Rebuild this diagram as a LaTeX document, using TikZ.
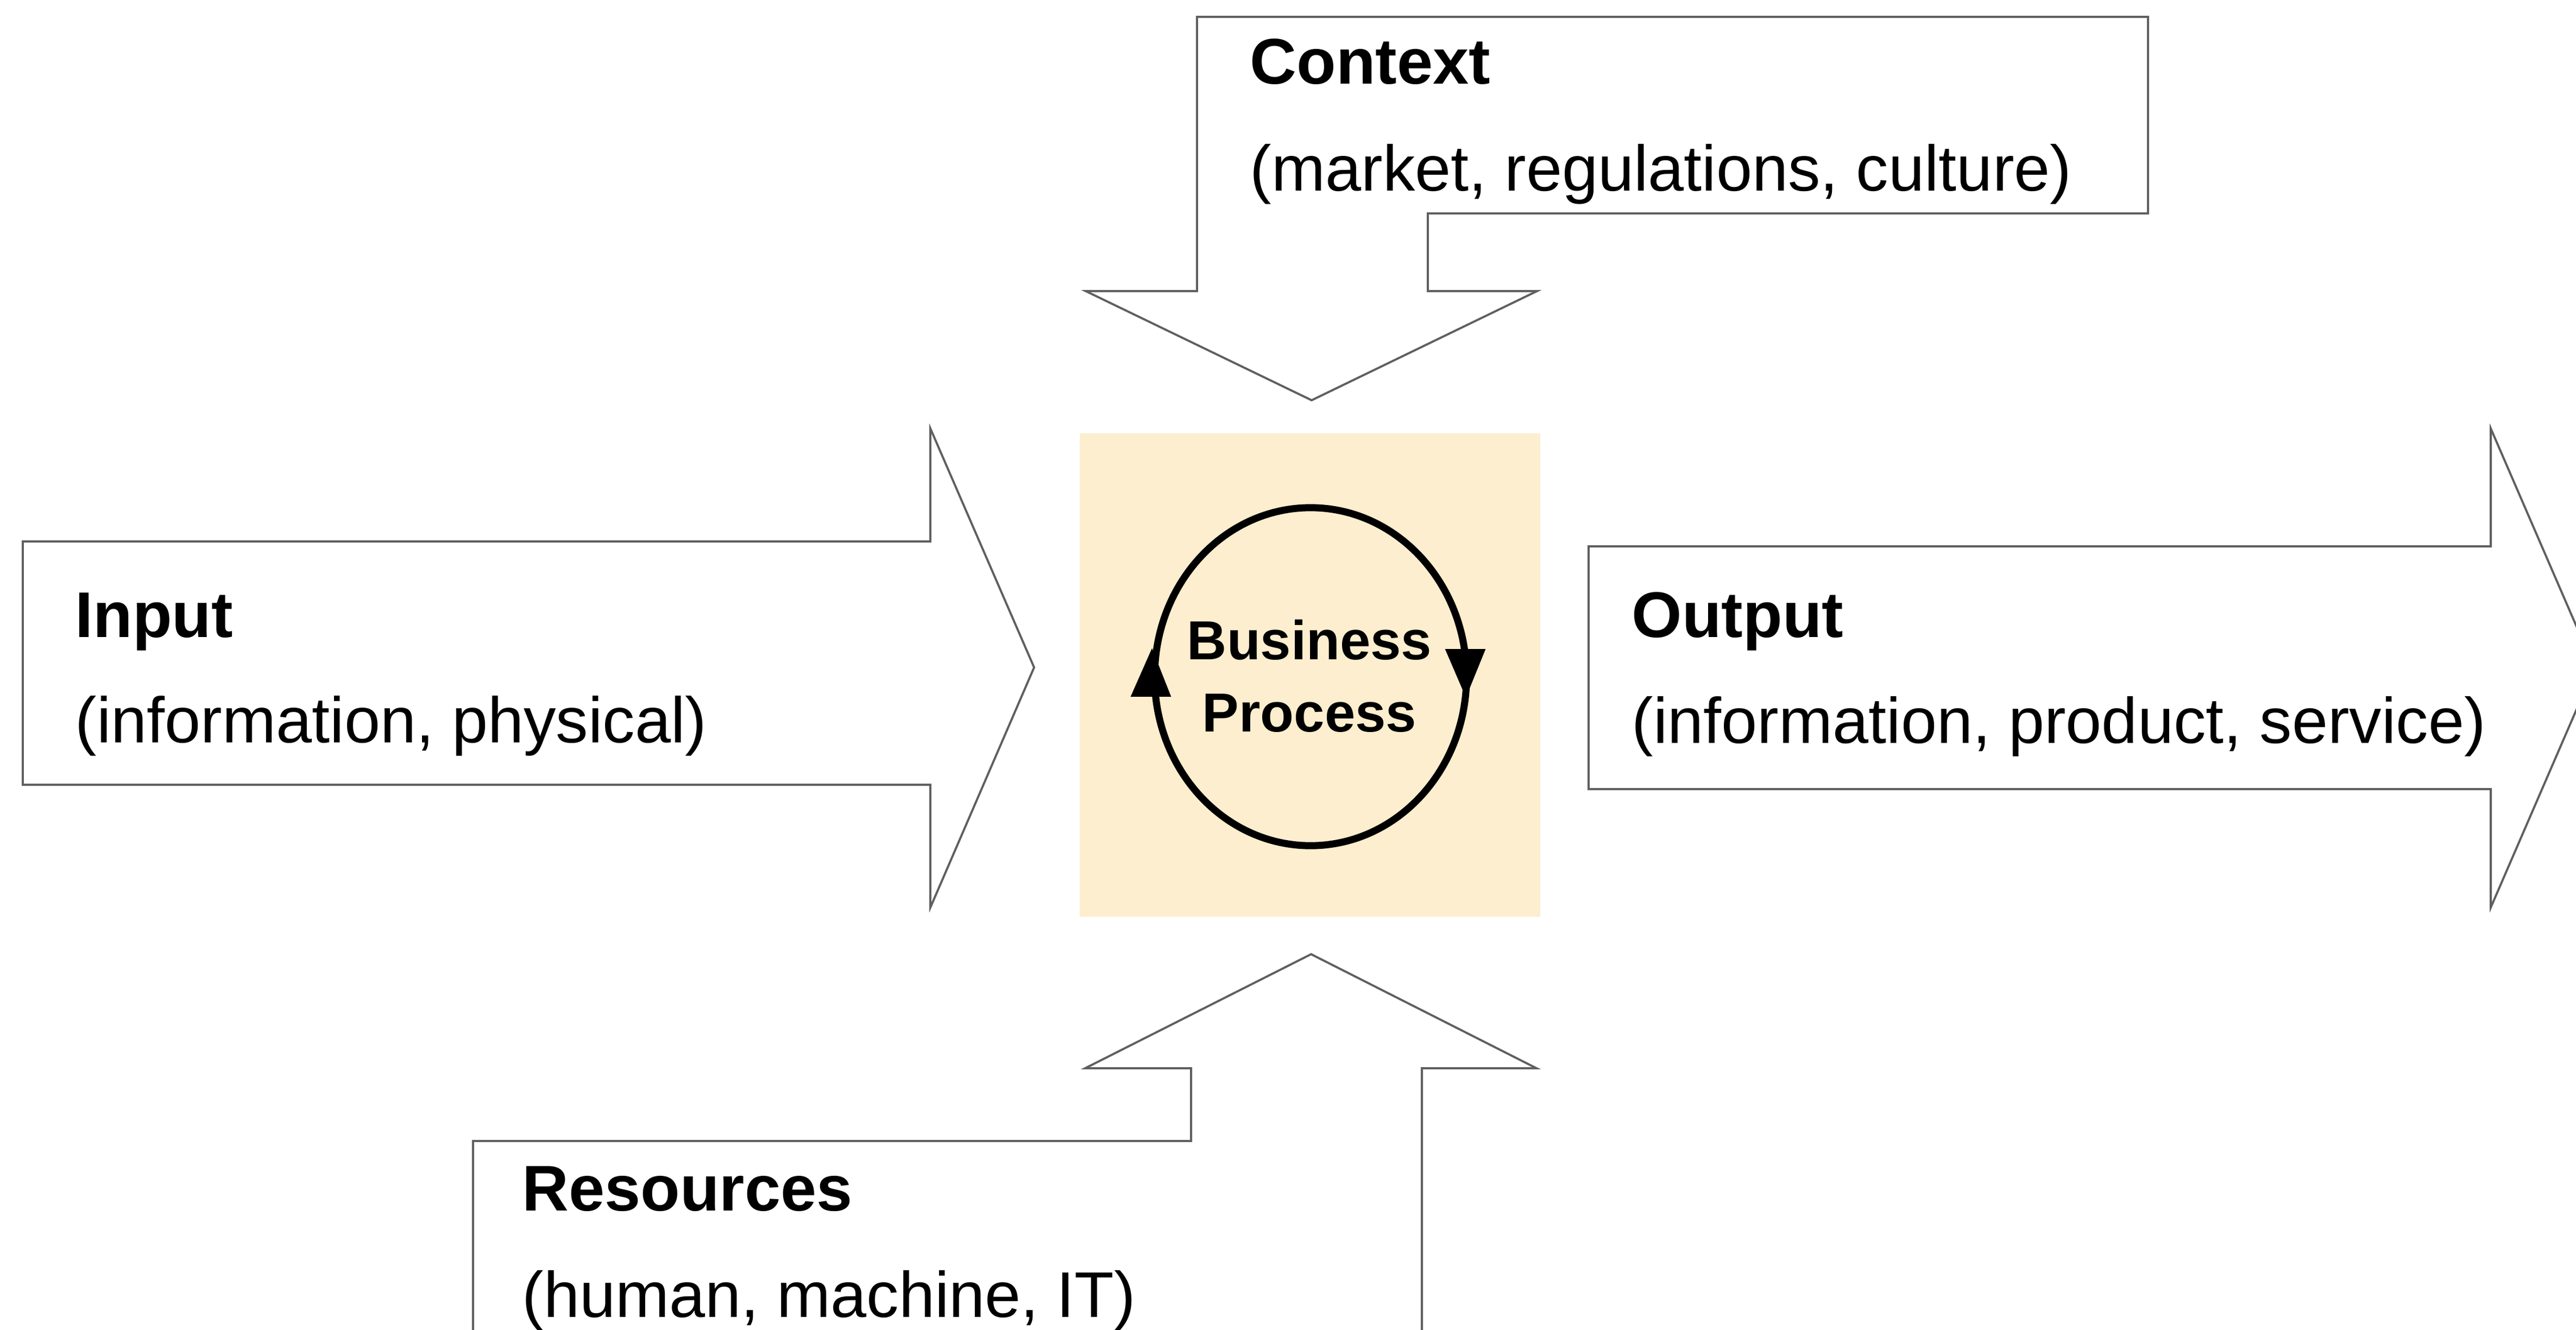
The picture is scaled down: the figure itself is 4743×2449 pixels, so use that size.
\documentclass[tikz,border=0pt]{standalone}
\usepackage{fontspec}
\setmainfont{Liberation Sans}
\definecolor{bpfill}{RGB}{252,238,206}
\definecolor{edgegray}{RGB}{95,95,95}
\tikzset{
  bigarrow/.style={draw=edgegray, line width=1.1pt, fill=white, line join=miter},
  titletext/.style={font=\fontsize{33.8}{40}\selectfont\bfseries, anchor=base west, inner sep=0pt},
  subtext/.style={font=\fontsize{33.8}{40}\selectfont, anchor=base west, inner sep=0pt},
  bptext/.style={font=\fontsize{28.8}{34}\selectfont\bfseries, anchor=base, inner sep=0pt},
  looptip/.style={fill=black, draw=black, line width=0.5pt, line join=miter}
}
\begin{document}
\begin{tikzpicture}[x=0.01cm,y=-0.01cm]
\useasboundingbox (0,0) rectangle (4743,2449);
\clip (0,0) rectangle (4743,2449);
\fill[white] (0,0) rectangle (4743,2449);

% Context arrow (top, bent, pointing down)
\draw[bigarrow] (2204,31) -- (3955,31) -- (3955,393) -- (2629,393) -- (2629,536)
  -- (2830,536) -- (2415,737) -- (1999,536) -- (2204,536) -- cycle;
\node[titletext] (ctxT) at (2301,155) {Context};
\node[subtext] (ctxS) at (2301,352) {(market, regulations, culture)};

% Input arrow
\draw[bigarrow] (42,997) -- (1713,997) -- (1713,789) -- (1904,1229) -- (1713,1671)
  -- (1713,1445) -- (42,1445) -- cycle;
\node[titletext] (inT) at (138,1173) {Input};
\node[subtext] (inS) at (138,1367) {(information, physical)};

% Output arrow
\draw[bigarrow] (2925,1006) -- (4586,1006) -- (4586,789) -- (4777,1230) -- (4586,1671)
  -- (4586,1453) -- (2925,1453) -- cycle;
\node[titletext] (outT) at (3004,1173) {Output};
\node[subtext] (outS) at (3004,1368) {(information, product, service)};

% Resources arrow (bottom, bent, pointing up)
\draw[bigarrow] (871,2560) -- (871,2101) -- (2193,2101) -- (2193,1967) -- (1998,1967)
  -- (2414,1757) -- (2829,1967) -- (2618,1967) -- (2618,2560);
\node[titletext] (resT) at (961,2229) {Resources};
\node[subtext] (resS) at (961,2425) {(human, machine, IT)};

% Business process
\fill[bpfill] (1988,798) rectangle (2836,1688);
\draw[line width=3.7pt] (2413,1246) ellipse [x radius=2.87cm, y radius=3.11cm];
\draw[looptip] (2662,1196) -- (2734,1196) -- (2699,1282) -- cycle;
\draw[looptip] (2083,1282) -- (2155,1282) -- (2121,1196) -- cycle;
\node[bptext] (bp1) at (2411,1214) {Business};
\node[bptext] (bp2) at (2411,1347) {Process};
\end{tikzpicture}
\end{document}
